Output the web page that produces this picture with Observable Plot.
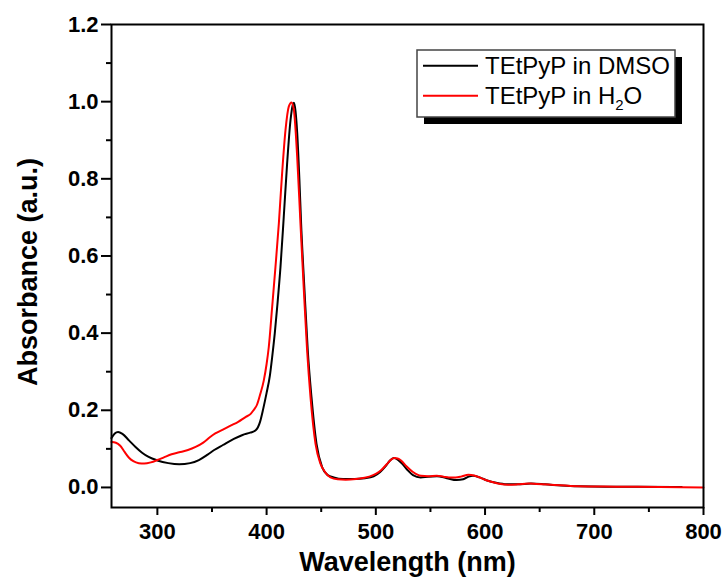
<!DOCTYPE html>
<html>
<head>
<meta charset="utf-8">
<script src="https://cdn.jsdelivr.net/npm/d3@7"></script>
<script src="https://cdn.jsdelivr.net/npm/@observablehq/plot@0.6"></script>
<style>
  html, body { margin: 0; padding: 0; background: #fff; }
</style>
</head>
<body>
<div id="chart"></div>
<script>
// ---- Data ----
const seriesNames = ["TEtPyP in DMSO", "TEtPyP in H2O"];
const seriesColors = ["#000000", "#ff0000"];

const wlDMSO = [258, 261, 264, 268, 274, 280, 286, 292, 300, 310, 320, 330, 338, 346, 352, 360, 370, 378, 385, 390, 394, 397, 400, 403, 405.1, 407.5, 409.7, 412.7, 415.7, 418.8, 421.9, 424, 425, 426.5, 428, 430, 431.6, 434.7, 437.7, 441.1, 445.7, 450.9, 456, 461.5, 470, 480, 490, 498, 504, 509, 513, 516.5, 520, 524, 529, 534, 541, 548, 556, 565, 574, 580, 585, 589, 595, 602, 610, 620, 630, 642, 655, 670, 685, 710, 740, 780];
const absDMSO = [0.128, 0.140, 0.144, 0.139, 0.122, 0.105, 0.090, 0.079, 0.070, 0.063, 0.060, 0.063, 0.071, 0.085, 0.097, 0.110, 0.126, 0.136, 0.142, 0.148, 0.170, 0.205, 0.245, 0.290, 0.338, 0.400, 0.468, 0.571, 0.701, 0.840, 0.952, 0.992, 0.997, 0.975, 0.920, 0.800, 0.684, 0.511, 0.355, 0.234, 0.113, 0.052, 0.032, 0.026, 0.022, 0.022, 0.024, 0.029, 0.040, 0.055, 0.070, 0.076, 0.072, 0.062, 0.045, 0.032, 0.026, 0.028, 0.029, 0.024, 0.019, 0.021, 0.028, 0.030, 0.026, 0.018, 0.012, 0.008, 0.008, 0.010, 0.008, 0.005, 0.003, 0.002, 0.002, 0.001];

const wlH2O = [258, 262, 266, 270, 274, 278, 283, 288, 294, 300, 306, 313, 320, 328, 335, 342, 348, 353, 360, 367, 374, 381, 385.2, 388, 391.3, 394, 397.4, 400, 402, 405.1, 408.1, 411.2, 414.2, 417.3, 420.3, 422.8, 424.9, 428, 431, 434.1, 437.1, 440.2, 444.8, 449.4, 454, 458.5, 465, 472.4, 482, 494, 500, 505, 510, 514, 517, 520, 523.1, 528, 534, 541.3, 548, 555.8, 562, 567, 573, 578, 584.8, 590, 594, 600, 606.6, 614, 621, 630, 640, 647, 660, 685, 720, 760, 800];
const absH2O = [0.118, 0.116, 0.108, 0.092, 0.077, 0.068, 0.063, 0.062, 0.065, 0.071, 0.078, 0.086, 0.091, 0.097, 0.105, 0.116, 0.130, 0.140, 0.150, 0.160, 0.170, 0.183, 0.190, 0.200, 0.215, 0.240, 0.277, 0.320, 0.364, 0.468, 0.571, 0.684, 0.814, 0.926, 0.987, 0.998, 0.980, 0.857, 0.684, 0.511, 0.355, 0.234, 0.113, 0.061, 0.038, 0.026, 0.021, 0.020, 0.022, 0.028, 0.035, 0.045, 0.060, 0.072, 0.076, 0.075, 0.070, 0.055, 0.040, 0.030, 0.029, 0.030, 0.028, 0.026, 0.026, 0.028, 0.033, 0.031, 0.027, 0.020, 0.014, 0.009, 0.007, 0.008, 0.010, 0.009, 0.007, 0.003, 0.002, 0.001, 0.000];

const xMajorTicks = [300, 400, 500, 600, 700, 800];
const xMinorTicks = [350, 450, 550, 650, 750];
const yMajorTicks = [0.0, 0.2, 0.4, 0.6, 0.8, 1.0, 1.2];
const yMinorTicks = [0.1, 0.3, 0.5, 0.7, 0.9, 1.1];
const xTitle = "Wavelength (nm)";
const yTitle = "Absorbance (a.u.)";

// ---- Build tables ----
const dmso = wlDMSO.map((w, i) => ({ w, a: absDMSO[i] }));
const h2o = wlH2O.map((w, i) => ({ w, a: absH2O[i] }));

const plot = Plot.plot({
  width: 724,
  height: 586,
  marginLeft: 111,
  marginRight: 21,
  marginTop: 24,
  marginBottom: 79,
  style: { fontFamily: "'Liberation Sans', Arial, sans-serif", fontSize: "22px", fontWeight: "bold", background: "#fff" },
  x: { domain: [258, 800], label: null },
  y: { domain: [-0.052, 1.2], label: null },
  marks: [
    Plot.line(dmso, { x: "w", y: "a", stroke: seriesColors[0], strokeWidth: 2, curve: "monotone-x" }),
    Plot.line(h2o, { x: "w", y: "a", stroke: seriesColors[1], strokeWidth: 2, curve: "monotone-x" }),
    Plot.frame({ stroke: "#000", strokeWidth: 2 }),
    Plot.axisX(xMajorTicks, { tickSize: 8, tickPadding: 8, tickFormat: d => String(d), strokeWidth: 2, label: null }),
    Plot.axisX(xMinorTicks, { tickSize: 5, tickFormat: () => "", strokeWidth: 2, label: null }),
    Plot.axisY(yMajorTicks, { tickSize: 10, tickPadding: 3, tickFormat: d => d.toFixed(1), strokeWidth: 2, label: null }),
    Plot.axisY(yMinorTicks, { tickSize: 5, tickFormat: () => "", strokeWidth: 2, label: null }),
    Plot.text([xTitle], { frameAnchor: "bottom", dy: 55, lineAnchor: "middle", textAnchor: "middle", fontSize: 27, fontWeight: "bold", text: d => d }),
    Plot.text([yTitle], { frameAnchor: "left", dx: -83, dy: 6, rotate: -90, lineAnchor: "middle", textAnchor: "middle", fontSize: 27, fontWeight: "bold", text: d => d })
  ]
});

document.getElementById("chart").appendChild(plot);

// ---- Legend (boxed, with drop shadow) ----
const svg = d3.select(plot);
const lg = svg.append("g")
  .attr("font-family", "'Liberation Sans', Arial, sans-serif")
  .attr("font-weight", "normal")
  .attr("text-anchor", "start");
lg.append("rect").attr("x", 424).attr("y", 57).attr("width", 258).attr("height", 67).attr("fill", "#000");
lg.append("rect").attr("x", 417).attr("y", 50).attr("width", 258).attr("height", 67).attr("fill", "#fff").attr("stroke", "#444").attr("stroke-width", 1.5);
const rowsY = [65.7, 95.7];
seriesNames.forEach((name, i) => {
  lg.append("line").attr("x1", 423).attr("x2", 478).attr("y1", rowsY[i]).attr("y2", rowsY[i])
    .attr("stroke", seriesColors[i]).attr("stroke-width", 2);
  const t = lg.append("text").attr("x", 485).attr("y", rowsY[i] + 8.3)
    .attr("font-size", 24).attr("fill", "#000").attr("text-anchor", "start");
  if (name.endsWith("H2O")) {
    t.append("tspan").text(name.slice(0, -3) + "H");
    t.append("tspan").attr("font-size", 15).attr("dy", 6).text("2");
    t.append("tspan").attr("dy", -6).text("O");
  } else {
    t.text(name);
  }
});
</script>
</body>
</html>
